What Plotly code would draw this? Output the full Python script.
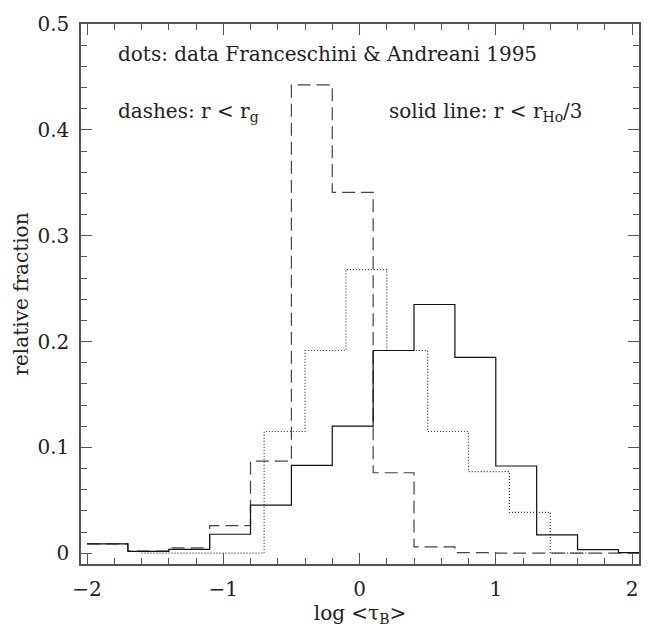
import plotly.graph_objects as go

# bin edges (width 0.3)
edges_main = [-2.0, -1.7, -1.4, -1.1, -0.8, -0.5, -0.2, 0.1, 0.4, 0.7, 1.0, 1.3, 1.6, 1.9, 2.2]
solid_vals = [0.0088, 0.0018, 0.0036, 0.0179, 0.0455, 0.083, 0.120, 0.1915, 0.235, 0.185, 0.0824, 0.0173, 0.0033, 0.0006]
dashed_vals = [0.0088, 0.0020, 0.0050, 0.026, 0.087, 0.4425, 0.341, 0.076, 0.006, 0.0006, 0.0, 0.0, 0.0, 0.0]

edges_dots = [-1.6, -1.3, -1.0, -0.7, -0.4, -0.1, 0.2, 0.5, 0.8, 1.1, 1.4, 1.7]
dotted_vals = [0.0, 0.0, 0.0, 0.115, 0.1915, 0.268, 0.1915, 0.115, 0.077, 0.0385, 0.0]

x_ticks = [-2, -1, 0, 1, 2]
x_ticklabels = ["\u22122", "\u22121", "0", "1", "2"]
y_ticks = [0, 0.1, 0.2, 0.3, 0.4, 0.5]
y_ticklabels = ["0", "0.1", "0.2", "0.3", "0.4", "0.5"]

FONT = "DejaVu Serif"
INK = "#222222"
FS = 20


def step(edges, vals):
    return list(edges), list(vals) + [vals[-1]]


fig = go.Figure()
x, y = step(edges_dots, dotted_vals)
fig.add_trace(go.Scatter(x=x, y=y, mode="lines", line=dict(shape="hv", color="#333333", width=1.2, dash="1px,2px"), showlegend=False))
x, y = step(edges_main, dashed_vals)
fig.add_trace(go.Scatter(x=x, y=y, mode="lines", line=dict(shape="hv", color="#444444", width=1.2, dash="13px,6px"), showlegend=False))
x, y = step(edges_main, solid_vals)
fig.add_trace(go.Scatter(x=x, y=y, mode="lines", line=dict(shape="hv", color="#111111", width=1.2), showlegend=False))

fig.add_annotation(x=-1.787, y=0.472, xref="x", yref="y", text="dots: data Franceschini &amp; Andreani 1995",
                   showarrow=False, xanchor="left", yanchor="middle", font=dict(family=FONT, size=FS, color=INK))
fig.add_annotation(x=-1.787, y=0.417, xref="x", yref="y", text="dashes: r &lt; r<sub>g</sub>",
                   showarrow=False, xanchor="left", yanchor="middle", font=dict(family=FONT, size=FS, color=INK))
fig.add_annotation(x=0.202, y=0.417, xref="x", yref="y", text="solid line: r &lt; r<sub>Ho</sub>/3",
                   showarrow=False, xanchor="left", yanchor="middle", font=dict(family=FONT, size=FS, color=INK))

axis_common = dict(showline=True, linecolor="#555555", linewidth=1.5, mirror="ticks", ticks="inside",
                   tickcolor="#555555", tickwidth=1.2, ticklen=11, showgrid=False, zeroline=False,
                   tickfont=dict(family=FONT, size=FS, color=INK))

fig.update_xaxes(range=[-2.044, 2.051], tickvals=x_ticks, ticktext=x_ticklabels, ticklabelstandoff=6,
                 minor=dict(dtick=0.2, tick0=0, ticks="inside", ticklen=6, tickcolor="#555555", tickwidth=1.2, showgrid=False),
                 title=dict(text="log &lt;\u03c4<sub>B</sub>&gt;", font=dict(family=FONT, size=FS, color=INK), standoff=4),
                 **axis_common)
fig.update_yaxes(range=[-0.0102, 0.5], tickvals=y_ticks, ticktext=y_ticklabels, ticklabelstandoff=6,
                 minor=dict(dtick=0.02, tick0=0, ticks="inside", ticklen=6, tickcolor="#555555", tickwidth=1.2, showgrid=False),
                 title=dict(text="relative fraction", font=dict(family=FONT, size=FS, color=INK), standoff=3),
                 **axis_common)

fig.update_layout(width=653, height=631, margin=dict(l=81, r=14, t=14, b=57),
                  paper_bgcolor="white", plot_bgcolor="white", showlegend=False)

fig.write_html("out.html")
